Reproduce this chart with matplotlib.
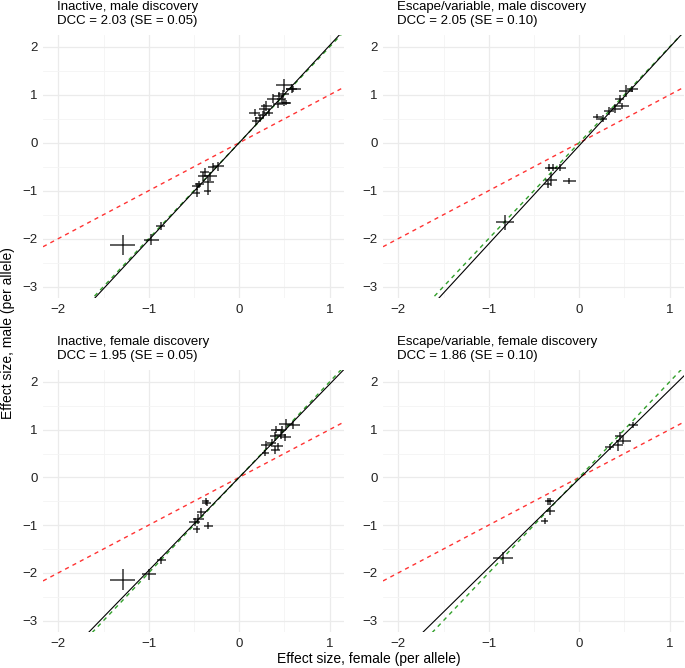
import numpy as np
import matplotlib
matplotlib.use("Agg")
import matplotlib.pyplot as plt

plt.rcParams['font.family'] = ['Liberation Sans', 'DejaVu Sans']

# panel titles and DCC estimates
titles = ["Inactive, male discovery", "Escape/variable, male discovery",
          "Inactive, female discovery", "Escape/variable, female discovery"]
dcc = [2.03, 2.05, 1.95, 1.86]
dcc_se = [0.05, 0.10, 0.05, 0.10]
fit_icpt = [0.0, -0.06, 0.0, -0.03]

# inactive, male discovery
p1_x = [0.50, 0.58, 0.60, 0.49, 0.44, 0.37, 0.47, 0.50, 0.43, 0.30, 0.28, 0.33, 0.26, 0.17, 0.19, 0.23, 0.52,
        -0.23, -0.29, -0.38, -0.40, -0.32, -0.34, -0.47, -0.44, -0.47, -0.35, -0.87, -0.97, -1.29]
p1_y = [1.20, 1.13, 1.12, 1.02, 0.98, 0.92, 0.91, 0.84, 0.80, 0.77, 0.70, 0.63, 0.59, 0.63, 0.45, 0.52, 0.84,
        -0.49, -0.51, -0.61, -0.70, -0.70, -0.82, -0.91, -0.87, -1.05, -1.00, -1.74, -2.02, -2.13]
p1_xerr = [0.09, 0.06, 0.08, 0.06, 0.06, 0.06, 0.05, 0.06, 0.05, 0.06, 0.06, 0.05, 0.05, 0.06, 0.05, 0.05, 0.05,
           0.06, 0.05, 0.05, 0.06, 0.07, 0.06, 0.05, 0.05, 0.04, 0.04, 0.05, 0.08, 0.14]
p1_yerr = [0.14, 0.09, 0.07, 0.09, 0.09, 0.09, 0.08, 0.08, 0.08, 0.11, 0.10, 0.08, 0.07, 0.07, 0.08, 0.07, 0.06,
           0.09, 0.08, 0.09, 0.10, 0.10, 0.10, 0.08, 0.08, 0.08, 0.08, 0.08, 0.12, 0.21]

# escape/variable, male discovery
p2_x = [0.52, 0.59, 0.45, 0.47, 0.40, 0.33, 0.26, 0.20,
        -0.33, -0.29, -0.21, -0.31, -0.35, -0.11, -0.82]
p2_y = [1.08, 1.12, 0.91, 0.77, 0.71, 0.66, 0.50, 0.54,
        -0.52, -0.52, -0.52, -0.77, -0.87, -0.79, -1.66]
p2_xerr = [0.08, 0.06, 0.05, 0.08, 0.06, 0.06, 0.05, 0.05,
           0.05, 0.05, 0.06, 0.07, 0.04, 0.07, 0.10]
p2_yerr = [0.13, 0.07, 0.09, 0.07, 0.09, 0.08, 0.07, 0.07,
           0.07, 0.07, 0.07, 0.13, 0.07, 0.06, 0.16]

# inactive, female discovery
p3_x = [0.52, 0.60, 0.47, 0.41, 0.46, 0.40, 0.51, 0.30, 0.36, 0.43, 0.40, 0.29,
        -0.36, -0.37, -0.42, -0.45, -0.49, -0.47, -0.34, -0.86, -1.00, -1.29]
p3_y = [1.11, 1.10, 1.00, 1.00, 0.89, 0.86, 0.84, 0.68, 0.72, 0.65, 0.58, 0.51,
        -0.54, -0.50, -0.72, -0.87, -0.94, -1.09, -1.01, -1.74, -2.03, -2.14]
p3_xerr = [0.08, 0.07, 0.05, 0.06, 0.06, 0.06, 0.06, 0.06, 0.05, 0.05, 0.05, 0.04,
           0.05, 0.04, 0.05, 0.06, 0.06, 0.04, 0.05, 0.05, 0.08, 0.14]
p3_yerr = [0.12, 0.08, 0.08, 0.08, 0.08, 0.09, 0.07, 0.08, 0.08, 0.08, 0.08, 0.07,
           0.07, 0.07, 0.08, 0.10, 0.08, 0.08, 0.07, 0.07, 0.11, 0.21]

# escape/variable, female discovery
p4_x = [0.60, 0.45, 0.49, 0.43, 0.34, -0.34, -0.32, -0.32, -0.38, -0.84]
p4_y = [1.10, 0.87, 0.77, 0.67, 0.63, -0.50, -0.50, -0.71, -0.91, -1.69]
p4_xerr = [0.05, 0.05, 0.08, 0.05, 0.05, 0.04, 0.04, 0.05, 0.04, 0.11]
p4_yerr = [0.07, 0.09, 0.07, 0.11, 0.06, 0.07, 0.07, 0.07, 0.06, 0.13]

panels = [(p1_x, p1_y, p1_xerr, p1_yerr), (p2_x, p2_y, p2_xerr, p2_yerr),
          (p3_x, p3_y, p3_xerr, p3_yerr), (p4_x, p4_y, p4_xerr, p4_yerr)]

W, H = 685, 668
fig = plt.figure(figsize=(W / 100, H / 100), dpi=100)

# panel boxes in pixels: left, top, right, bottom
boxes = [(43, 35, 344, 298), (383, 35, 684, 298),
         (43, 370, 344, 632), (383, 370, 684, 632)]

xl = (-2.17, 1.16)
yl = (-3.24, 2.25)
xx = np.array(xl)

for i in range(4):
    l, t, r, b = boxes[i]
    ax = fig.add_axes([l / W, 1 - b / H, (r - l) / W, (b - t) / H])
    x, y, xe, ye = panels[i]
    ax.plot(xx, xx, color='#ff3333', lw=1.0, ls=(0, (3, 3)), zorder=2)
    ax.plot(xx, 2 * xx, color='#33a02c', lw=1.0, ls=(0, (3, 3)), zorder=2)
    ax.plot(xx, dcc[i] * xx + fit_icpt[i], color='black', lw=0.8, zorder=3)
    ax.errorbar(x, y, xerr=xe, yerr=ye, fmt='none', ecolor='black', elinewidth=1.1,
                capsize=0, alpha=0.8, zorder=4)
    ax.set_xticks([-2, -1, 0, 1])
    ax.set_xticklabels(['\u22122', '\u22121', '0', '1'])
    ax.set_yticks([-3, -2, -1, 0, 1, 2])
    ax.set_yticklabels(['\u22123', '\u22122', '\u22121', '0', '1', '2'])
    ax.set_xticks([-1.5, -0.5, 0.5], minor=True)
    ax.set_yticks([-2.5, -1.5, -0.5, 0.5, 1.5], minor=True)
    # limits after the ticks so set_ticks does not widen them
    ax.set_xlim(xl)
    ax.set_ylim(yl)
    ax.grid(which='major', color='#ebebeb', lw=0.9)
    ax.grid(which='minor', color='#f4f4f4', lw=0.6)
    ax.set_axisbelow(True)
    for s in ax.spines.values():
        s.set_visible(False)
    ax.tick_params(which='both', length=0, labelsize=9.5, colors='#222222', pad=4)
    fig.text((l + 14) / W, 1 - (t - 8) / H,
             titles[i] + "\nDCC = %.2f (SE = %.2f)" % (dcc[i], dcc_se[i]),
             ha='left', va='bottom', fontsize=9.5, linespacing=1.25)

fig.text(369 / W, 1 - 659 / H, "Effect size, female (per allele)", ha='center', va='center', fontsize=10)
fig.text(8 / W, 1 - 333 / H, "Effect size, male (per allele)", ha='center', va='center',
         rotation=90, fontsize=10)

fig.savefig("out.png", dpi=100)
